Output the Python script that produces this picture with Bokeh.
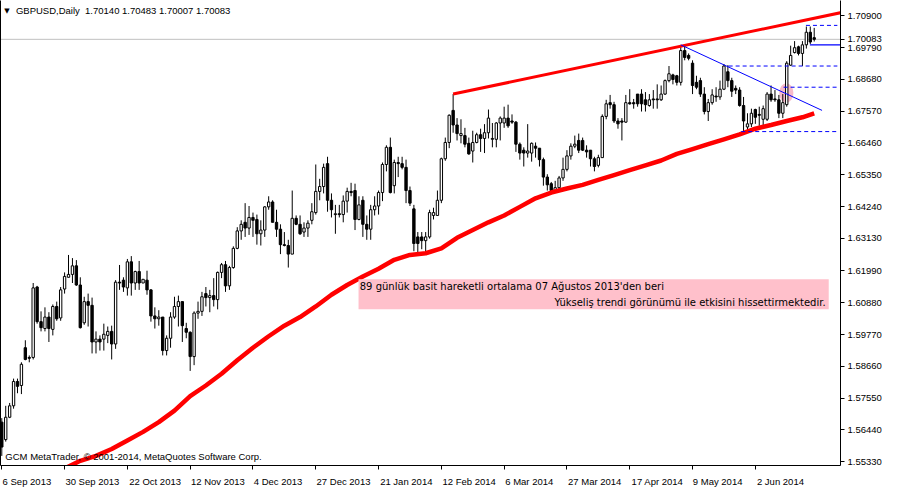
from bokeh.plotting import figure
from bokeh.models import (LinearAxis, FixedTicker, PrintfTickFormatter, Span, Label,
                          BoxAnnotation, Range1d, AllLabels)
from bokeh.embed import file_html
from bokeh.resources import INLINE

# ---------------- data ----------------
symbol = "GBPUSD"
timeframe = "Daily"

bar_open = [
    1.5671, 1.5610, 1.5688, 1.5728, 1.5813, 1.5799, 1.5931, 1.5897, 1.5897, 1.6143,
    1.6022, 1.5998, 1.6038, 1.5995, 1.6075, 1.6035, 1.6136, 1.6177, 1.6187, 1.6217,
    1.6150, 1.6018, 1.6092, 1.6079, 1.5951, 1.5961, 1.5961, 1.5974, 1.5988, 1.5944,
    1.6160, 1.6167, 1.6140, 1.6231, 1.6157, 1.6197, 1.6157, 1.6167, 1.6133, 1.6042,
    1.6032, 1.6038, 1.5921, 1.5964, 1.6038, 1.6075, 1.6092, 1.5998, 1.5985, 1.5900,
    1.6052, 1.6058, 1.6120, 1.6106, 1.6113, 1.6099, 1.6194, 1.6221, 1.6147, 1.6211,
    1.6278, 1.6339, 1.6369, 1.6349, 1.6386, 1.6379, 1.6329, 1.6342, 1.6423, 1.6440,
    1.6369, 1.6345, 1.6291, 1.6288, 1.6258, 1.6383, 1.6362, 1.6335, 1.6349, 1.6376,
    1.6403, 1.6477, 1.6494, 1.6574, 1.6446, 1.6396, 1.6399, 1.6396, 1.6443, 1.6477,
    1.6480, 1.6379, 1.6446, 1.6362, 1.6345, 1.6413, 1.6426, 1.6473, 1.6571, 1.6631,
    1.6497, 1.6578, 1.6574, 1.6561, 1.6480, 1.6416, 1.6318, 1.6318, 1.6305, 1.6318,
    1.6393, 1.6393, 1.6446, 1.6591, 1.6648, 1.6760, 1.6709, 1.6672, 1.6672, 1.6645,
    1.6618, 1.6648, 1.6675, 1.6662, 1.6682, 1.6659, 1.6659, 1.6716, 1.6716, 1.6733,
    1.6723, 1.6719, 1.6642, 1.6621, 1.6611, 1.6611, 1.6635, 1.6628, 1.6588, 1.6527,
    1.6504, 1.6480, 1.6490, 1.6524, 1.6554, 1.6601, 1.6635, 1.6655, 1.6655, 1.6621,
    1.6621, 1.6591, 1.6568, 1.6595, 1.6739, 1.6787, 1.6780, 1.6723, 1.6723, 1.6719,
    1.6787, 1.6787, 1.6817, 1.6817, 1.6797, 1.6777, 1.6800, 1.6800, 1.6797, 1.6817,
    1.6864, 1.6884, 1.6881, 1.6858, 1.6969, 1.6952, 1.6925, 1.6858, 1.6864, 1.6817,
    1.6756, 1.6787, 1.6810, 1.6807, 1.6834, 1.6895, 1.6864, 1.6837, 1.6831, 1.6777,
    1.6702, 1.6713, 1.6763, 1.6746, 1.6729, 1.6729, 1.6817, 1.6800, 1.6797, 1.6750,
    1.6780, 1.6918, 1.6962, 1.6982, 1.6959, 1.6989, 1.7033, 1.70140,
]
bar_high = [
    1.5685, 1.5728, 1.5738, 1.5823, 1.5823, 1.5880, 1.5957, 1.5904, 1.6157, 1.6147,
    1.6058, 1.6072, 1.6055, 1.6082, 1.6092, 1.6143, 1.6194, 1.6255, 1.6244, 1.6237,
    1.6177, 1.6109, 1.6120, 1.6106, 1.5988, 1.5974, 1.6015, 1.6005, 1.6008, 1.6167,
    1.6220, 1.6177, 1.6241, 1.6251, 1.6200, 1.6234, 1.6170, 1.6200, 1.6136, 1.6072,
    1.6062, 1.6038, 1.5974, 1.6055, 1.6109, 1.6113, 1.6092, 1.6018, 1.5988, 1.6058,
    1.6092, 1.6126, 1.6143, 1.6133, 1.6174, 1.6197, 1.6227, 1.6234, 1.6217, 1.6285,
    1.6352, 1.6376, 1.6436, 1.6426, 1.6403, 1.6396, 1.6376, 1.6426, 1.6460, 1.6446,
    1.6413, 1.6362, 1.6335, 1.6308, 1.6480, 1.6393, 1.6393, 1.6369, 1.6376, 1.6436,
    1.6571, 1.6521, 1.6574, 1.6598, 1.6470, 1.6430, 1.6430, 1.6463, 1.6490, 1.6507,
    1.6504, 1.6460, 1.6460, 1.6393, 1.6430, 1.6460, 1.6480, 1.6578, 1.6638, 1.6665,
    1.6588, 1.6598, 1.6598, 1.6588, 1.6494, 1.6430, 1.6335, 1.6335, 1.6335, 1.6413,
    1.6420, 1.6480, 1.6595, 1.6665, 1.6746, 1.6817, 1.6733, 1.6729, 1.6699, 1.6665,
    1.6689, 1.6682, 1.6696, 1.6712, 1.6763, 1.6716, 1.6719, 1.6739, 1.6773, 1.6780,
    1.6746, 1.6723, 1.6648, 1.6631, 1.6712, 1.6648, 1.6648, 1.6628, 1.6595, 1.6537,
    1.6510, 1.6514, 1.6531, 1.6595, 1.6621, 1.6645, 1.6672, 1.6679, 1.6665, 1.6638,
    1.6621, 1.6598, 1.6605, 1.6746, 1.6797, 1.6814, 1.6790, 1.6733, 1.6733, 1.6814,
    1.6834, 1.6800, 1.6817, 1.6834, 1.6824, 1.6817, 1.6831, 1.6851, 1.6847, 1.6868,
    1.6915, 1.6888, 1.6884, 1.6986, 1.6986, 1.6959, 1.6935, 1.6881, 1.6874, 1.6841,
    1.6800, 1.6834, 1.6841, 1.6864, 1.6922, 1.6918, 1.6874, 1.6847, 1.6841, 1.6807,
    1.6750, 1.6766, 1.6766, 1.6773, 1.6777, 1.6824, 1.6847, 1.6831, 1.6814, 1.6817,
    1.6932, 1.6986, 1.7002, 1.6986, 1.7002, 1.7053, 1.7053, 1.70483,
]
bar_low = [
    1.5553, 1.5603, 1.5685, 1.5718, 1.5772, 1.5769, 1.5887, 1.5880, 1.5890, 1.6015,
    1.5988, 1.5988, 1.5951, 1.5974, 1.6025, 1.6025, 1.6120, 1.6177, 1.6157, 1.6147,
    1.5998, 1.6011, 1.6005, 1.5911, 1.5911, 1.5921, 1.5921, 1.5947, 1.5890, 1.5927,
    1.6133, 1.6126, 1.6113, 1.6113, 1.6133, 1.6133, 1.6157, 1.6116, 1.6022, 1.5998,
    1.6008, 1.5904, 1.5904, 1.5931, 1.6032, 1.6005, 1.5951, 1.5964, 1.5850, 1.5870,
    1.6032, 1.6042, 1.6075, 1.6055, 1.6075, 1.6065, 1.6174, 1.6126, 1.6133, 1.6207,
    1.6275, 1.6308, 1.6318, 1.6325, 1.6318, 1.6291, 1.6288, 1.6318, 1.6413, 1.6369,
    1.6318, 1.6258, 1.6285, 1.6211, 1.6258, 1.6359, 1.6325, 1.6318, 1.6318, 1.6362,
    1.6396, 1.6446, 1.6470, 1.6406, 1.6386, 1.6329, 1.6386, 1.6369, 1.6403, 1.6460,
    1.6342, 1.6376, 1.6318, 1.6308, 1.6308, 1.6393, 1.6396, 1.6443, 1.6547, 1.6470,
    1.6470, 1.6527, 1.6554, 1.6436, 1.6426, 1.6268, 1.6261, 1.6275, 1.6268, 1.6312,
    1.6379, 1.6393, 1.6436, 1.6584, 1.6628, 1.6682, 1.6655, 1.6645, 1.6631, 1.6605,
    1.6578, 1.6645, 1.6615, 1.6611, 1.6662, 1.6631, 1.6631, 1.6655, 1.6699, 1.6699,
    1.6713, 1.6615, 1.6588, 1.6564, 1.6595, 1.6581, 1.6595, 1.6564, 1.6497, 1.6480,
    1.6473, 1.6473, 1.6477, 1.6514, 1.6547, 1.6588, 1.6628, 1.6611, 1.6618, 1.6595,
    1.6564, 1.6547, 1.6561, 1.6595, 1.6729, 1.6766, 1.6716, 1.6696, 1.6655, 1.6716,
    1.6780, 1.6766, 1.6773, 1.6756, 1.6756, 1.6773, 1.6766, 1.6766, 1.6793, 1.6814,
    1.6858, 1.6851, 1.6847, 1.6847, 1.6935, 1.6935, 1.6817, 1.6834, 1.6807, 1.6746,
    1.6723, 1.6780, 1.6790, 1.6797, 1.6831, 1.6841, 1.6807, 1.6817, 1.6773, 1.6686,
    1.6686, 1.6702, 1.6713, 1.6706, 1.6702, 1.6723, 1.6790, 1.6790, 1.6733, 1.6733,
    1.6773, 1.6915, 1.6959, 1.6952, 1.6915, 1.6976, 1.6992, 1.70007,
]
bar_close = [
    1.5584, 1.5688, 1.5728, 1.5813, 1.5796, 1.5873, 1.5890, 1.5894, 1.6140, 1.6022,
    1.6001, 1.6038, 1.5998, 1.6075, 1.6032, 1.6133, 1.6180, 1.6187, 1.6217, 1.6150,
    1.6001, 1.6092, 1.6079, 1.5951, 1.5961, 1.5951, 1.5978, 1.5988, 1.5944, 1.6160,
    1.6157, 1.6143, 1.6231, 1.6157, 1.6197, 1.6157, 1.6170, 1.6133, 1.6042, 1.6032,
    1.6038, 1.5921, 1.5964, 1.6038, 1.6075, 1.6092, 1.6008, 1.5985, 1.5900, 1.6052,
    1.6058, 1.6109, 1.6106, 1.6113, 1.6099, 1.6194, 1.6221, 1.6147, 1.6211, 1.6278,
    1.6339, 1.6362, 1.6349, 1.6386, 1.6376, 1.6329, 1.6342, 1.6423, 1.6440, 1.6369,
    1.6345, 1.6291, 1.6288, 1.6258, 1.6383, 1.6362, 1.6329, 1.6349, 1.6366, 1.6406,
    1.6477, 1.6494, 1.6561, 1.6446, 1.6413, 1.6399, 1.6396, 1.6443, 1.6477, 1.6473,
    1.6379, 1.6430, 1.6362, 1.6345, 1.6413, 1.6426, 1.6473, 1.6571, 1.6631, 1.6473,
    1.6578, 1.6574, 1.6561, 1.6480, 1.6436, 1.6295, 1.6295, 1.6305, 1.6318, 1.6403,
    1.6403, 1.6446, 1.6591, 1.6648, 1.6743, 1.6709, 1.6679, 1.6679, 1.6642, 1.6608,
    1.6648, 1.6675, 1.6662, 1.6682, 1.6733, 1.6662, 1.6716, 1.6733, 1.6733, 1.6706,
    1.6719, 1.6642, 1.6611, 1.6611, 1.6618, 1.6645, 1.6628, 1.6588, 1.6527, 1.6500,
    1.6480, 1.6490, 1.6524, 1.6554, 1.6601, 1.6635, 1.6642, 1.6621, 1.6621, 1.6615,
    1.6591, 1.6564, 1.6595, 1.6739, 1.6783, 1.6780, 1.6723, 1.6713, 1.6719, 1.6787,
    1.6783, 1.6783, 1.6783, 1.6783, 1.6780, 1.6797, 1.6797, 1.6797, 1.6817, 1.6864,
    1.6888, 1.6868, 1.6858, 1.6969, 1.6945, 1.6942, 1.6847, 1.6841, 1.6817, 1.6756,
    1.6787, 1.6814, 1.6807, 1.6834, 1.6915, 1.6864, 1.6827, 1.6831, 1.6777, 1.6723,
    1.6713, 1.6750, 1.6736, 1.6743, 1.6766, 1.6817, 1.6797, 1.6797, 1.6750, 1.6787,
    1.6925, 1.6952, 1.6979, 1.6959, 1.6989, 1.7033, 1.6999, 1.70083,
]

# 89-day simple moving average (red), read at every 4th bar
ma_bars = [16, 20, 24, 28, 32, 36, 40, 44, 48, 52, 56, 60, 64, 68, 72, 76, 80, 84, 88,
           92, 96, 100, 104, 108, 112, 116, 120, 124, 128, 132, 136, 140, 144, 148,
           152, 156, 160, 164, 168, 172, 176, 180, 184, 188, 192, 196, 200, 204, 207]
ma_values = [1.5509, 1.5536, 1.5553, 1.5577, 1.5607, 1.5637, 1.5671, 1.5711, 1.5762,
             1.5799, 1.5840, 1.5887, 1.5931, 1.5971, 1.6008, 1.6038, 1.6075, 1.6116,
             1.6150, 1.6180, 1.6207, 1.6238, 1.6255, 1.6261, 1.6278, 1.6315, 1.6342,
             1.6369, 1.6393, 1.6423, 1.6453, 1.6473, 1.6487, 1.6500, 1.6517, 1.6534,
             1.6551, 1.6568, 1.6585, 1.6608, 1.6625, 1.6642, 1.6659, 1.6676, 1.6696,
             1.6709, 1.6723, 1.6736, 1.6750]

# drawn objects (trend lines and levels)
upper_trend_bars = [115, 214]
upper_trend_prices = [1.6817, 1.7102]
down_trend_bars = [173, 209]
down_trend_prices = [1.6989, 1.6760]
level_prices = [1.7057, 1.6915, 1.6841, 1.6686]
level_from_bars = [204.9, 185.2, 199.2, 188.4]
level_to_bars = [212.9, 212.9, 212.9, 212.9]
support_bars = [205.9, 214.0]
support_prices = [1.6989, 1.6989]
marker_bar = [199.9]
marker_price = [1.6821]

price_ticks = [1.70900, 1.69790, 1.68680, 1.67570, 1.66460, 1.65350, 1.64240, 1.63130,
               1.61990, 1.60880, 1.59770, 1.58660, 1.57550, 1.56440, 1.55330]
date_tick_bars = [0, 16, 32, 48, 64, 80, 96, 112, 128, 144, 160, 176, 192]
date_labels = ["6 Sep 2013", "30 Sep 2013", "22 Oct 2013", "12 Nov 2013", "4 Dec 2013",
               "27 Dec 2013", "21 Jan 2014", "12 Feb 2014", "6 Mar 2014", "27 Mar 2014",
               "17 Apr 2014", "9 May 2014", "2 Jun 2014"]

note_line1 = "89 günlük basit hareketli ortalama 07 Ağustos 2013'den beri"
note_line2 = "Yükseliş trendi görünümü ile etkisini hissettirmektedir."
copyright_text = "GCM MetaTrader, © 2001-2014, MetaQuotes Software Corp."

# ---------------- layout / style ----------------
X_START, X_END = -0.33, 213.7
Y_START, Y_END = 1.55195, 1.71439
FRAME_W, FRAME_H = 840, 465
AXIS_FONT = "Liberation Sans"
AXIS_SIZE = "9.5px"

p = figure(frame_width=FRAME_W, frame_height=FRAME_H,
           x_range=Range1d(X_START, X_END), y_range=Range1d(Y_START, Y_END),
           x_axis_type=None, y_axis_type=None,
           output_backend="svg", toolbar_location=None,
           min_border_left=0, min_border_right=0, min_border_top=0, min_border_bottom=0,
           background_fill_color="white", border_fill_color="white")
p.outline_line_color = None
p.xgrid.visible = False
p.ygrid.visible = False

# left frame line
left_axis = LinearAxis(ticker=FixedTicker(ticks=[]), major_label_text_font_size="0px",
                       major_tick_out=0, major_tick_in=0, minor_tick_out=0, minor_tick_in=0,
                       axis_line_color="black", axis_line_width=1)
p.add_layout(left_axis, "left")

# right price axis (grid prices plus the last price, as MetaTrader shows it)
last_close = bar_close[-1]
right_axis = LinearAxis(ticker=FixedTicker(ticks=price_ticks + [last_close]),
                        formatter=PrintfTickFormatter(format="%.5f"),
                        major_label_policy=AllLabels(),
                        major_tick_out=4, major_tick_in=0, minor_tick_out=0, minor_tick_in=0,
                        major_label_standoff=3, axis_line_color="black",
                        major_tick_line_color="black",
                        major_label_text_font=AXIS_FONT, major_label_text_font_size=AXIS_SIZE,
                        major_label_text_color="black")
p.add_layout(right_axis, "right")

# bottom date axis: tick marks at the bars (minor ticks), labels placed to the right
# of each tick (MetaTrader style) via major ticks that carry the text only
char_w = {" ": 0.278}
def text_w(s, size_px):
    w = 0.0
    for ch in s:
        if ch in char_w:
            w += char_w[ch]
        elif ch.isdigit():
            w += 0.556
        elif ch.isupper():
            w += 0.70
        else:
            w += 0.52
    return w * size_px

px_per_bar = FRAME_W / (X_END - X_START)
label_pos = [round(b + (text_w(s, 9.5) / 2 + 1) / px_per_bar, 3)
             for b, s in zip(date_tick_bars, date_labels)]
date_axis = LinearAxis(ticker=FixedTicker(ticks=label_pos, minor_ticks=date_tick_bars),
                       major_label_overrides={pos: s for pos, s in zip(label_pos, date_labels)},
                       major_label_standoff=6, major_tick_out=0, major_tick_in=0,
                       minor_tick_out=4, minor_tick_in=0,
                       axis_line_color="black", major_tick_line_color=None,
                       minor_tick_line_color="black",
                       major_label_text_font=AXIS_FONT, major_label_text_font_size=AXIS_SIZE,
                       major_label_text_color="black")
p.add_layout(date_axis, "below")

# current price line
p.add_layout(Span(location=last_close, dimension="width", line_color="#c0c0c0",
                  line_width=1, level="underlay"))

# pink marker under the breakout candle
p.ellipse(x=marker_bar, y=marker_price, width=3.6, height=0.0068,
          fill_color="#f6b3c3", fill_alpha=0.9, line_color=None)

# candles
idx = list(range(len(bar_open)))
tops = [max(o, c) for o, c in zip(bar_open, bar_close)]
bottoms = [min(o, c) for o, c in zip(bar_open, bar_close)]
fills = ["white" if c >= o else "black" for o, c in zip(bar_open, bar_close)]
p.segment(x0=idx, y0=bar_low, x1=idx, y1=bar_high, line_color="black", line_width=1)
p.vbar(x=idx, width=0.6, top=tops, bottom=bottoms, fill_color=fills,
       line_color="black", line_width=1)

# moving average and drawn objects
p.line(ma_bars, ma_values, line_color="#ff0000", line_width=4.5)
p.line(upper_trend_bars, upper_trend_prices, line_color="#ff0000", line_width=3)
p.line(down_trend_bars, down_trend_prices, line_color="#0000ff", line_width=1)
p.segment(x0=level_from_bars, y0=level_prices, x1=level_to_bars, y1=level_prices,
          line_color="#0000ff", line_width=1, line_dash="4 3")
p.line(support_bars, support_prices, line_color="#0000ff", line_width=1.2)

# annotation box
p.add_layout(BoxAnnotation(left=90.9, right=210.7, top=1.6170, bottom=1.6065,
                           fill_color="#ffc0cb", fill_alpha=1.0, line_color=None))
p.add_layout(Label(x=91.2, y=1.6146, text=note_line1, text_baseline="middle",
                   text_align="left", text_font="DejaVu Sans", text_font_size="10px",
                   text_color="black"))
p.add_layout(Label(x=209.9, y=1.6090, text=note_line2, text_baseline="middle",
                   text_align="right", text_font="DejaVu Sans", text_font_size="10px",
                   text_color="black"))

# header
header = f"{symbol},{timeframe}\u00a0 " + " ".join(
    f"{v:.5f}" for v in (bar_open[-1], bar_high[-1], bar_low[-1], bar_close[-1]))
p.add_layout(Label(x=0.6, y=1.7108, text="\u25bc", text_baseline="middle",
                   text_font="DejaVu Sans", text_font_size="7px", text_color="black"))
p.add_layout(Label(x=3.6, y=1.7108, text=header, text_baseline="middle",
                   text_font=AXIS_FONT, text_font_size=AXIS_SIZE, text_color="black"))
p.add_layout(Label(x=0.9, y=1.5533, text=copyright_text, text_baseline="bottom",
                   text_font=AXIS_FONT, text_font_size=AXIS_SIZE, text_color="black"))

open("out.html", "w").write(file_html(p, INLINE))
